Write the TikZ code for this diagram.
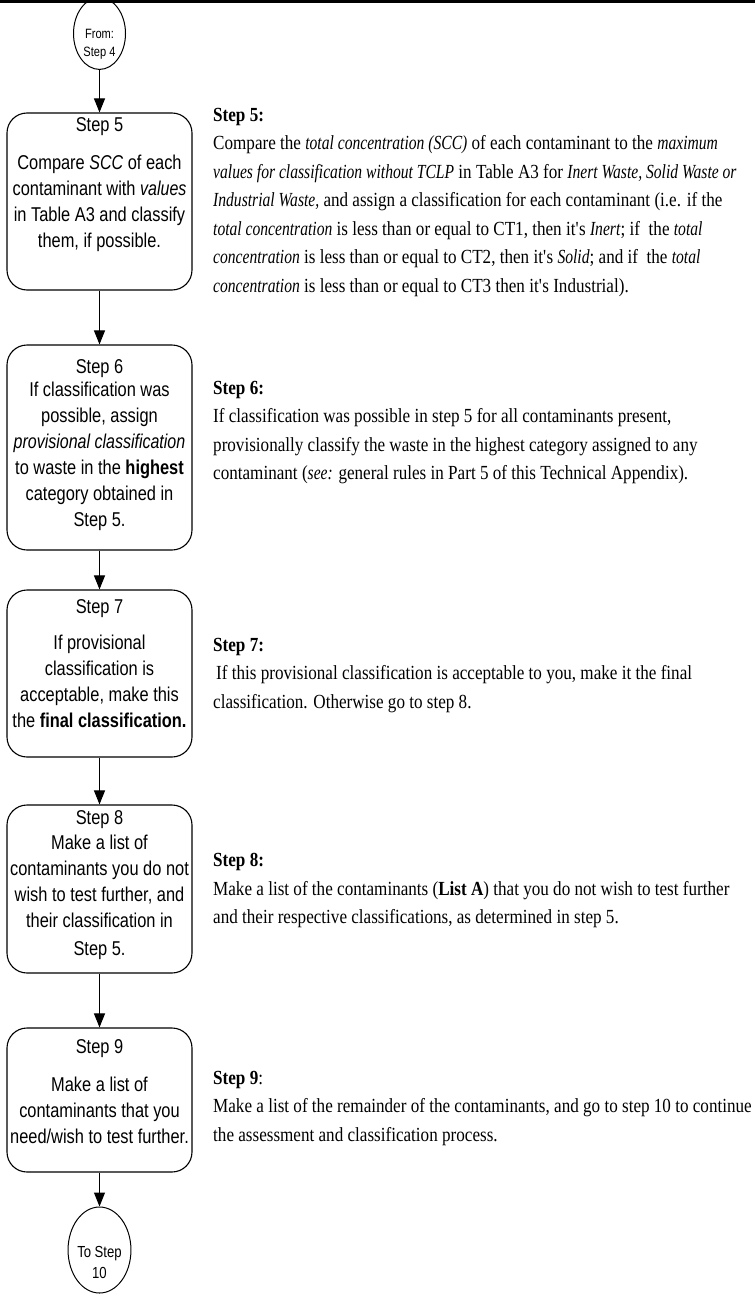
\documentclass[tikz,border=0pt]{standalone}
\usepackage{fontspec}
\setmainfont{Liberation Serif}[FakeStretch=0.855, ItalicFeatures={FakeStretch=0.78}]
\newfontfamily\boxfont{Liberation Sans}[FakeStretch=0.82, ItalicFeatures={FakeStretch=0.8}]
\usetikzlibrary{positioning,shapes.geometric,arrows.meta}

\tikzset{
    boxtext/.style={font=\boxfont\fontsize{20}{26}\selectfont, align=center, inner sep=0pt},
    note/.style={font=\fontsize{20}{28.5}\selectfont, align=left, anchor=north west, inner sep=0pt},
    terminal/.style={ellipse, draw, line width=1pt, inner sep=0pt, align=center},
    flow/.style={-{Triangle[length=14pt,width=11pt]}, line width=1pt}
}

\begin{document}
\begin{tikzpicture}[x=1pt,y=-1pt]
\useasboundingbox (0,0) rectangle (755,1303);
\draw[line width=2.5pt] (0,1.5) -- (755,1.5);

\begin{scope}[every node/.style={draw, line width=1.1pt, rounded corners=20pt, minimum width=185pt, inner sep=0pt}]
    \node (s5) at (99.5,201.5) [minimum height=177pt] {};
    \node (s6) at (99.5,447.5) [minimum height=205pt] {};
    \node (s7) at (99.5,673.5) [minimum height=167pt] {};
    \node (s8) at (99.5,889) [minimum height=168pt] {};
    \node (s9) at (99.5,1100) [minimum height=144pt] {};
\end{scope}

    \node (from) at (99.5,33.5) [terminal, minimum width=52pt, minimum height=57pt,
        font=\boxfont\fontsize{13.5}{18}\selectfont] {\rule{0pt}{30pt}From:\\Step 4};
    \node (to) at (99.5,1250) [terminal, minimum width=53pt, minimum height=86pt,
        font=\boxfont\fontsize{16}{21}\selectfont] {\rule{0pt}{36pt}To Step\\10};

    \node (t5) [boxtext, below=5pt of s5.north] {Step 5\\[12pt]Compare \textit{SCC} of each\\contaminant with \textit{values}\\in Table A3 and classify\\them, if possible.};
    \node (t6) [boxtext, below=15pt of s6.north] {Step 6\\[-3pt]If classification was\\possible, assign\\\textit{provisional classification}\\to waste in the \textbf{highest}\\category obtained in\\Step 5.};
    \node (t7) [boxtext, below=10pt of s7.north] {Step 7\\[10pt]If provisional\\classification is\\acceptable, make this\\the \textbf{final classification.}};
    \node (t8) [boxtext, below=6pt of s8.north] {Step 8\\[-1pt]Make a list of\\contaminants you do not\\wish to test further, and\\their classification in\\[2pt]Step 5.};
    \node (t9) [boxtext, below=12pt of s9.north] {Step 9\\[12pt]Make a list of\\contaminants that you\\need/wish to test further.};

    \path [flow] (from) edge (s5);
    \path [flow] (s5) edge (s6);
    \path [flow] (s6) edge (s7);
    \path [flow] (s7) edge (s8);
    \path [flow] (s8) edge (s9);
    \path [flow] (s9) edge (to);

    \node (n5) at (213,108) [note] {\textbf{Step 5:}\\
        Compare the \textit{total concentration (SCC)} of each contaminant to the \textit{maximum}\\
        \textit{values for classification without TCLP} in Table A3 for \textit{Inert Waste, Solid Waste or}\\
        \textit{Industrial Waste,} and assign a classification for each contaminant (i.e. if the\\
        \textit{total concentration} is less than or equal to CT1, then it\textquotesingle s \textit{Inert}; if~ the \textit{total}\\
        \textit{concentration} is less than or equal to CT2, then it\textquotesingle s \textit{Solid}; and if~ the \textit{total}\\
        \textit{concentration} is less than or equal to CT3 then it\textquotesingle s Industrial).};
    \node (n6) at (213,381) [note] {\textbf{Step 6:}\\
        If classification was possible in step 5 for all contaminants present,\\
        provisionally classify the waste in the highest category assigned to any\\
        contaminant (\textit{see:} general rules in Part 5 of this Technical Appendix).};
    \node (n7) at (213,638) [note] {\textbf{Step 7:}\\
        \hspace{3pt}If this provisional classification is acceptable to you, make it the final\\
        classification. Otherwise go to step 8.};
    \node (n8) at (213,853) [note] {\textbf{Step 8:}\\
        Make a list of the contaminants (\textbf{List A}) that you do not wish to test further\\
        and their respective classifications, as determined in step 5.};
    \node (n9) at (213,1071) [note] {\textbf{Step 9}:\\
        Make a list of the remainder of the contaminants, and go to step 10 to continue\\
        the assessment and classification process.};

\end{tikzpicture}
\end{document}
